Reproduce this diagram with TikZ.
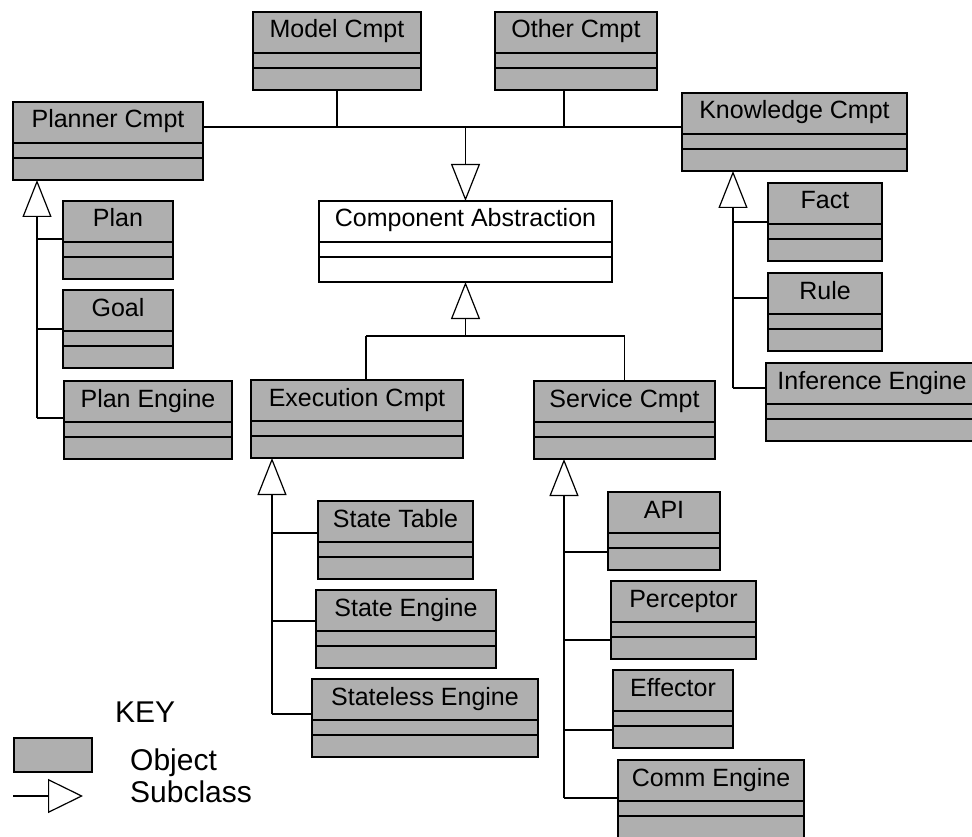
\documentclass[tikz,border=0pt]{standalone}
\usepackage{fontspec}
\setmainfont{Liberation Sans}
\usetikzlibrary{calc,arrows.meta}
\definecolor{objgray}{RGB}{175,175,175}
\tikzset{
  objbox/.style={draw=black, line width=1.2pt, fill=objgray, inner sep=0pt, outer sep=0pt, minimum height=78pt},
  ttl/.style={font=\fontsize{25}{28}\selectfont, anchor=base, inner sep=0pt},
  keytxt/.style={font=\fontsize{30}{34}\selectfont, anchor=base west, inner sep=0pt},
  conn/.style={draw=black, line width=1.2pt},
  inh/.style={conn, -{Triangle[fill=white, length=37pt, width=29pt]}}
}
\newcommand{\umlobj}[6][objbox]{%
  \node[#1, minimum width=#5pt, anchor=north west] (#2) at (#3,#4) {};
  \draw[conn] ($(#2.north west)+(0,41)$) -- ($(#2.north east)+(0,41)$);
  \draw[conn] ($(#2.north west)+(0,56)$) -- ($(#2.north east)+(0,56)$);
  \node[ttl] at ($(#2.north)+(0,26)$) {#6};
}
\begin{document}
\begin{tikzpicture}[x=1pt,y=-1pt]
\useasboundingbox (0,0) rectangle (972,837);
% objects
\umlobj{model}{253}{12}{168}{Model Cmpt}
\umlobj{other}{495}{12}{162}{Other Cmpt}
\umlobj{planner}{13}{102}{190}{Planner Cmpt}
\umlobj{knowledge}{682}{93}{225}{Knowledge Cmpt}
\umlobj[objbox, fill=white, minimum height=81pt]{compabs}{319}{201}{293}{Component Abstraction}
\umlobj{plan}{63}{201}{110}{Plan}
\umlobj{goal}{63}{290}{110}{Goal}
\umlobj{planeng}{64}{381}{168}{Plan Engine}
\umlobj{fact}{768}{183}{114}{Fact}
\umlobj{rule}{768}{273}{114}{Rule}
\umlobj{infer}{766}{363}{212}{Inference Engine}
\umlobj{exec}{251}{380}{212}{Execution Cmpt}
\umlobj{service}{534}{381}{181}{Service Cmpt}
\umlobj{statetab}{318}{501}{155}{State Table}
\umlobj{stateeng}{316}{590}{180}{State Engine}
\umlobj{stateless}{312}{679}{226}{Stateless Engine}
\umlobj{api}{608}{492}{112}{API}
\umlobj{perceptor}{611}{581}{145}{Perceptor}
\umlobj{effector}{613}{670}{120}{Effector}
\umlobj{comm}{618}{760}{186}{Comm Engine}
% top bus
\coordinate (busy) at (0,127);
\coordinate (otherx) at (564,0);
\draw[conn] (planner.east |- busy) -- (knowledge.west |- busy);
\draw[conn] (model.south) -- (model.south |- busy);
\draw[conn] (other.south -| otherx) -- (otherx |- busy);
\draw[inh] (compabs.north |- busy) -- (compabs.north);
% below component abstraction
\coordinate (hb) at (0,336);
\coordinate (execx) at (366,0);
\draw[inh] (compabs.south |- hb) -- (compabs.south);
\draw[conn] (execx |- hb) -- (service.north |- hb);
\draw[conn] (execx |- hb) -- (exec.north -| execx);
\draw[conn] (service.north |- hb) -- (service.north);
% planner family
\coordinate (ptx) at (37,0);
\coordinate (pc1) at (0,239);
\coordinate (pc2) at (0,329);
\coordinate (pc3) at (0,418);
\draw[conn] (plan.west |- pc1) -- (ptx |- pc1);
\draw[conn] (goal.west |- pc2) -- (ptx |- pc2);
\draw[conn] (planeng.west |- pc3) -- (ptx |- pc3);
\draw[inh] (ptx |- pc3) -- (planner.south -| ptx);
% knowledge family
\coordinate (ktx) at (733,0);
\coordinate (kc1) at (0,222);
\coordinate (kc2) at (0,298);
\coordinate (kc3) at (0,388);
\draw[conn] (fact.west |- kc1) -- (ktx |- kc1);
\draw[conn] (rule.west |- kc2) -- (ktx |- kc2);
\draw[conn] (infer.west |- kc3) -- (ktx |- kc3);
\draw[inh] (ktx |- kc3) -- (knowledge.south -| ktx);
% execution family
\coordinate (etx) at (272,0);
\coordinate (ec1) at (0,533);
\coordinate (ec2) at (0,621);
\coordinate (ec3) at (0,714);
\draw[conn] (statetab.west |- ec1) -- (etx |- ec1);
\draw[conn] (stateeng.west |- ec2) -- (etx |- ec2);
\draw[conn] (stateless.west |- ec3) -- (etx |- ec3);
\draw[inh] (etx |- ec3) -- (exec.south -| etx);
% service family
\coordinate (stx) at (564,0);
\coordinate (sc1) at (0,552);
\coordinate (sc2) at (0,640);
\coordinate (sc3) at (0,730);
\coordinate (sc4) at (0,798);
\draw[conn] (api.west |- sc1) -- (stx |- sc1);
\draw[conn] (perceptor.west |- sc2) -- (stx |- sc2);
\draw[conn] (effector.west |- sc3) -- (stx |- sc3);
\draw[conn] (comm.west |- sc4) -- (stx |- sc4);
\draw[inh] (stx |- sc4) -- (service.south -| stx);
% key
\node[keytxt] (keyt) at (115,722) {KEY};
\node[objbox, line width=2pt, minimum width=78pt, minimum height=34pt, anchor=north west] (keyobj) at (14,738) {};
\node[keytxt] (keyo) at (130,770) {Object};
\node[keytxt] (keys) at (130,802) {Subclass};
\coordinate (keyl) at (13,796);
\coordinate (keyr) at (83,796);
\draw[conn, -{Triangle[fill=white, length=35pt, width=34pt]}] (keyl) -- (keyr);
\end{tikzpicture}
\end{document}
